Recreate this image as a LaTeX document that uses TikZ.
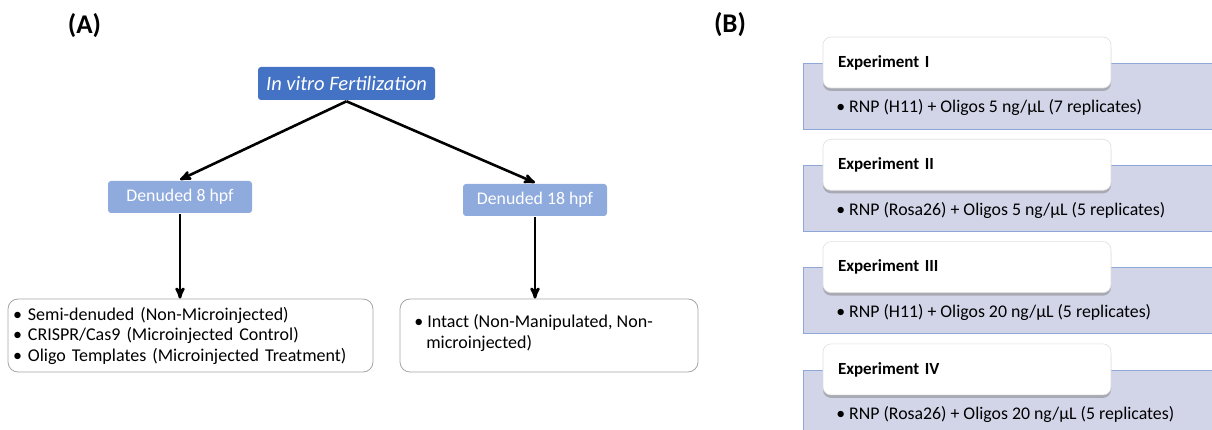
\documentclass[tikz,border=0pt]{standalone}
\usepackage{fontspec}
\setmainfont{Carlito}
\usepackage{xcolor}
\usetikzlibrary{arrows,positioning,calc,shadows}

\definecolor{ivfblue}{HTML}{4472C4}
\definecolor{denblue}{HTML}{8FAADC}
\definecolor{bandfill}{HTML}{D2D4E8}
\definecolor{bandline}{HTML}{8EA6D8}

\begin{document}
\begin{tikzpicture}[->,>=stealth',x=1pt,y=-1pt,
			line width=2.6pt]
			\tikzstyle{ivf}=[draw=none,fill=ivfblue,text=white,rounded corners=3pt,minimum width=177pt,minimum height=33pt,font=\fontsize{20.5}{24}\selectfont\itshape]
			\tikzstyle{den}=[draw=none,fill=denblue,text=white,rounded corners=3pt,minimum width=144pt,minimum height=32pt,font=\fontsize{17.8}{21}\selectfont]
			\tikzstyle{list}=[draw=gray!70,line width=0.8pt,fill=white,rounded corners=10pt,align=left,font=\fontsize{18}{20.5}\selectfont]
			\tikzstyle{listtxt}=[anchor=west,inner sep=0pt,font=\fontsize{18}{20.5}\selectfont]
			\tikzstyle{band}=[draw=bandline,line width=0.8pt,fill=bandfill,minimum width=410pt,minimum height=66pt,inner sep=0pt]
			\tikzstyle{head}=[draw=gray!25,line width=0.6pt,fill=white,rounded corners=8pt,drop shadow={opacity=0.5,shadow xshift=0pt,shadow yshift=-3pt},minimum width=288pt,minimum height=51pt,text width=258pt,inner xsep=15pt,align=left,font=\fontsize{17}{20}\selectfont\bfseries]
			\tikzstyle{item}=[anchor=west,inner sep=0pt,font=\fontsize{17.8}{20}\selectfont]
			
			\useasboundingbox (0,0) rectangle (1212,430);
			
			\node[font=\fontsize{27}{30}\selectfont\bfseries] (LA) at (84.5,26) {(A)};
			\node[font=\fontsize{27}{30}\selectfont\bfseries] (LB) at (730,25) {(B)};
			
			% panel A
			\node[ivf]    (IVF)   at (346.5,83.5)     {In vitro Fertilization};
			\node[den]    (D8)    at (180,197)        {Denuded 8 hpf};
			\node[den]    (D18)   at (535,200)        {Denuded 18 hpf};
			\node[list, minimum width=365pt, minimum height=73pt, text width=355pt, inner xsep=5pt] (L8) at (190.5,335.5)
				{\textbullet~Semi-denuded (Non-Microinjected)\\
				 \textbullet~CRISPR/Cas9 (Microinjected Control)\\
				 \textbullet~Oligo Templates (Microinjected Treatment)};
			\node[list, minimum width=298pt, minimum height=73pt] (L18) at (549,335.5) {};
			\node[listtxt] (L18a) at (413,322) {\textbullet~Intact (Non-Manipulated, Non-};
			\node[listtxt] (L18b) at (425,343) {microinjected)};
			
			\path
			(IVF.south) edge (D8.north)
			(IVF.south) edge (D18.north)
			(D8.south)  edge (L8.north -| D8.south)
			(D18.south) edge (L18.north -| D18.south);
			
			% panel B
			\foreach \i/\num/\txt in {0/I/{RNP (H11) + Oligos 5 ng/µL (7 replicates)},
				1/II/{RNP (Rosa26) + Oligos 5 ng/µL (5 replicates)},
				2/III/{RNP (H11) + Oligos 20 ng/µL (5 replicates)},
				3/IV/{RNP (Rosa26) + Oligos 20 ng/µL (5 replicates)}}{
				\node[band] (band\i) at (1008,{96+102.3*\i}) {};
				\node[head] (exp\i) at (967,{62.5+102.3*\i}) {Experiment \num};
				\node[item] (txt\i) at (835,{108+102.3*\i}) {\textbullet~\txt};
			}
			\end{tikzpicture}
\end{document}
